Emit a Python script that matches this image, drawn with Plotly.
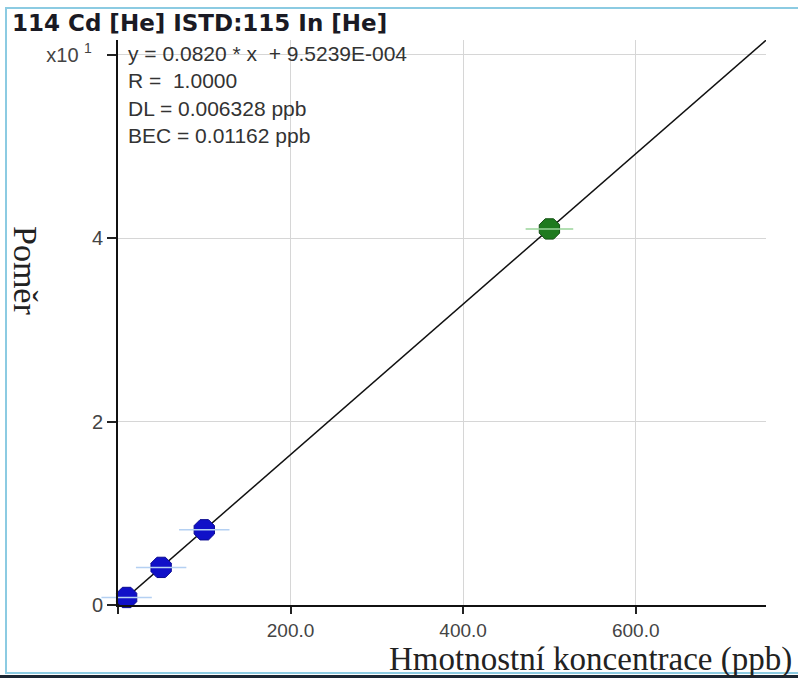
import plotly.graph_objects as go

# ---- data ----
std_conc = [10, 50, 100]          # ppb, calibration standards (blue)
std_ratio = [0.821, 4.10, 8.20]   # count ratio
chk_conc = [500]                  # ppb (green)
chk_ratio = [41.0]
slope = 0.0820
intercept = 9.5239e-4
fit_x = [0, 751]
fit_y = [slope * v + intercept for v in fit_x]

x_tickvals = [0, 200, 400, 600]
x_ticktext = ["", "200.0", "400.0", "600.0"]
y_tickvals = [0, 20, 40, 60]
y_ticktext = ["0", "2", "4", "x10 <sup>1</sup>\u00a0\u00a0"]

title_text = "114 Cd [He] ISTD:115 In [He]"
stats_lines = ["y = 0.0820 * x  + 9.5239E-004", "R =  1.0000",
               "DL = 0.006328 ppb", "BEC = 0.01162 ppb"]
x_title = "Hmotnostní koncentrace (ppb)"
y_title = "Poměr"

W, H = 798, 678
L, R, T, B = 118, 32, 40, 73

fig = go.Figure()

fig.add_trace(go.Scatter(x=fit_x, y=fit_y, mode="lines",
                         line=dict(color="#111111", width=1.5),
                         hoverinfo="skip", showlegend=False))
# blue standards
fig.add_trace(go.Scatter(x=std_conc, y=std_ratio, mode="markers",
                         marker=dict(symbol="octagon", size=22, color="#1010c8",
                                     line=dict(color="#0a0a90", width=1)),
                         cliponaxis=False, showlegend=False))
fig.add_trace(go.Scatter(x=std_conc, y=std_ratio, mode="markers",
                         marker=dict(symbol="line-ew", size=36,
                                     line=dict(color="#b4d0f2", width=1.5)),
                         cliponaxis=False, showlegend=False))
# green check point
fig.add_trace(go.Scatter(x=chk_conc, y=chk_ratio, mode="markers",
                         marker=dict(symbol="octagon", size=22, color="#1f7a1f",
                                     line=dict(color="#145214", width=1)),
                         cliponaxis=False, showlegend=False))
fig.add_trace(go.Scatter(x=chk_conc, y=chk_ratio, mode="markers",
                         marker=dict(symbol="line-ew", size=34,
                                     line=dict(color="#9ad49a", width=1.5)),
                         cliponaxis=False, showlegend=False))

def px_x(p):
    return (p - L) / (W - L - R)

def px_y(p):
    return (H - B - p) / (H - T - B)

annotations = [
    dict(text="<b>" + title_text + "</b>", x=px_x(10), y=px_y(23),
         xref="paper", yref="paper", xanchor="left", yanchor="middle",
         showarrow=False, font=dict(family="DejaVu Sans", size=23, color="#1a1a24")),
    dict(text="<br>".join(stats_lines), x=px_x(126), y=px_y(94.5),
         xref="paper", yref="paper", xanchor="left", yanchor="middle", align="left",
         showarrow=False, font=dict(family="Liberation Sans, Arial", size=21, color="#333333")),
    dict(text=x_title, x=px_x(794), y=px_y(659),
         xref="paper", yref="paper", xanchor="right", yanchor="middle",
         showarrow=False, font=dict(family="Liberation Serif, Times New Roman", size=33, color="#222222")),
    dict(text=y_title, x=px_x(26), y=px_y(270), textangle=90,
         xref="paper", yref="paper", xanchor="center", yanchor="middle",
         showarrow=False, font=dict(family="Liberation Serif, Times New Roman", size=34, color="#222222")),
]

shapes = [
    dict(type="rect", xref="paper", yref="paper", x0=px_x(6), x1=px_x(800),
         y0=px_y(673), y1=px_y(8), line=dict(color="#8ccbe2", width=2), layer="below"),
    dict(type="rect", xref="paper", yref="paper", x0=px_x(0), x1=px_x(798),
         y0=px_y(678), y1=px_y(675), line=dict(width=0), fillcolor="#1c2733"),
]

fig.update_layout(
    width=W, height=H,
    margin=dict(l=L, r=R, t=T, b=B),
    paper_bgcolor="white", plot_bgcolor="white",
    annotations=annotations, shapes=shapes,
    xaxis=dict(range=[0, 751], tickvals=x_tickvals, ticktext=x_ticktext,
               showgrid=True, gridcolor="#d6d6d6", gridwidth=1,
               showline=True, linecolor="#111111", linewidth=2,
               ticks="outside", ticklen=7, tickwidth=1.5, tickcolor="#222222",
               tickfont=dict(family="Liberation Sans, Arial", size=19, color="#444444"),
               zeroline=False),
    yaxis=dict(range=[0, 61.6], tickvals=y_tickvals, ticktext=y_ticktext,
               showgrid=True, gridcolor="#d6d6d6", gridwidth=1,
               showline=True, linecolor="#111111", linewidth=2,
               ticks="outside", ticklen=9, tickwidth=1.5, tickcolor="#222222",
               tickfont=dict(family="Liberation Sans, Arial", size=20, color="#444444"),
               zeroline=False),
)

fig.write_html("out.html", config={"displayModeBar": False},
               post_script="document.body.style.margin='0px';document.body.style.overflow='hidden';")
